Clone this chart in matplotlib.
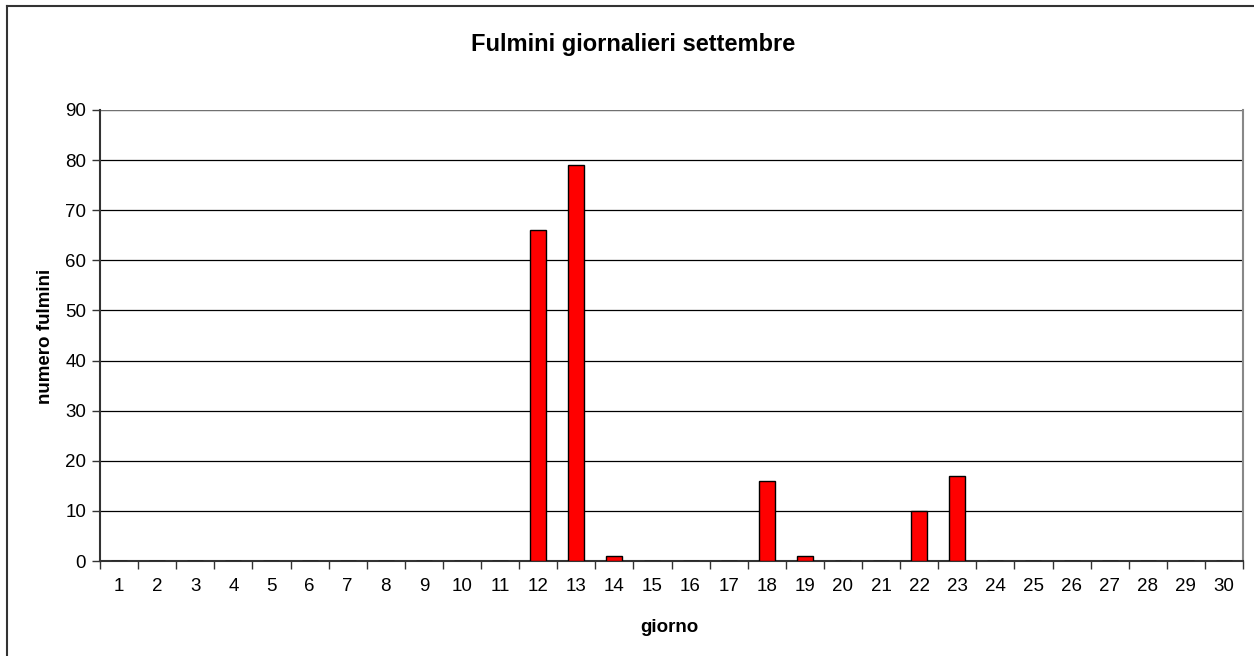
import matplotlib
matplotlib.use("Agg")
import matplotlib.pyplot as plt
from matplotlib.lines import Line2D
import numpy as np

plt.rcParams['font.family'] = ['Liberation Sans', 'DejaVu Sans']

days = list(range(1, 31))
values = [0, 0, 0, 0, 0, 0, 0, 0, 0, 0, 0, 66, 79, 1, 0, 0, 0, 16, 1, 0,
          0, 10, 17, 0, 0, 0, 0, 0, 0, 0]
yticks = [0, 10, 20, 30, 40, 50, 60, 70, 80, 90]
title = "Fulmini giornalieri settembre"
xlabel = "giorno"
ylabel = "numero fulmini"

W, H = 1254, 656
fig = plt.figure(figsize=(W / 100, H / 100), dpi=100)
left, right, top, bottom = 100, 1243, 110, 561
ax = fig.add_axes([left / W, 1 - bottom / H, (right - left) / W, (bottom - top) / H])

# figure frame
fig.add_artist(Line2D([7 / W, 7 / W], [0, 1 - 6 / H], transform=fig.transFigure,
                      color='#333333', lw=1.5))
fig.add_artist(Line2D([7 / W, 1], [1 - 6 / H, 1 - 6 / H], transform=fig.transFigure,
                      color='#333333', lw=1.5))

ax.bar(days, values, width=0.42, color='#ff0000', edgecolor='black', linewidth=1.0, zorder=3)

ax.set_xlim(0.5, 30.5)
ax.set_ylim(0, 90)
ax.set_yticks(yticks)
ax.set_yticklabels([str(v) for v in yticks], fontsize=13.5)
ax.yaxis.grid(True, color='black', lw=0.9, zorder=0)
ax.set_axisbelow(True)

ax.set_xticks(days)
ax.set_xticklabels([str(d) for d in days], fontsize=13.5)
ax.tick_params(axis='x', which='major', length=0, pad=12)
ax.set_xticks(np.arange(0.5, 31, 1), minor=True)
ax.tick_params(axis='x', which='minor', length=6, width=1, color='#333333', direction='out')
ax.tick_params(axis='y', length=6, width=1, color='#333333', direction='out', pad=4)

ax.spines['top'].set_visible(False)
ax.spines['right'].set_color('#888888')
ax.spines['right'].set_linewidth(1.5)
ax.spines['left'].set_color('#333333')
ax.spines['left'].set_linewidth(1.5)
ax.spines['bottom'].set_color('#333333')
ax.spines['bottom'].set_linewidth(1.5)
ax.axhline(90, color='#888888', lw=1.2, zorder=1)

fig.text(633 / W, 1 - 45 / H, title, fontsize=17, fontweight='bold',
         ha='center', va='center')
fig.text(669 / W, 1 - 627 / H, xlabel, fontsize=13.5, fontweight='bold', ha='center', va='center')
fig.text(45 / W, 1 - 336 / H, ylabel, fontsize=13.5, fontweight='bold', ha='center', va='center',
         rotation=90)

fig.savefig("out.png", dpi=100)
